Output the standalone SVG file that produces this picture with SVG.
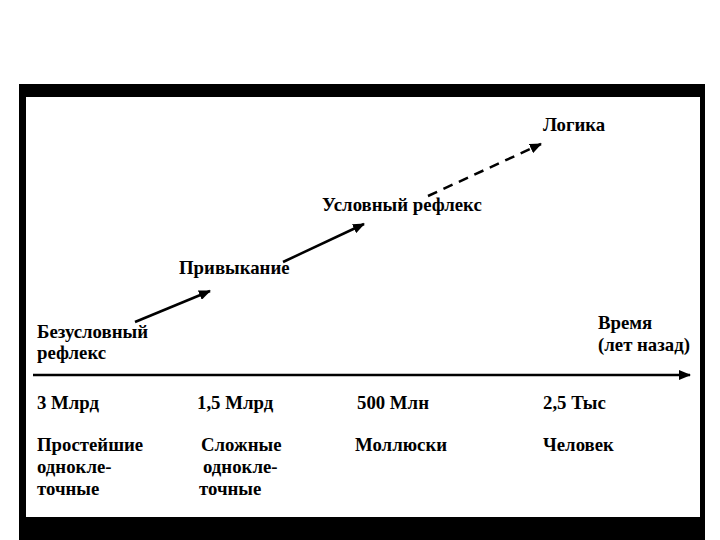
<svg xmlns="http://www.w3.org/2000/svg" width="720" height="540" viewBox="0 0 720 540">
<defs>
<style>
text{font-family:"Liberation Serif","Times New Roman",serif;font-weight:bold;font-size:18.8px;fill:#000}
.ln{stroke:#000;stroke-width:2.5;fill:none}
</style>
<marker id="ah" markerUnits="userSpaceOnUse" markerWidth="12" markerHeight="10" refX="11" refY="5" orient="auto">
<path d="M0,0 L12,5 L0,10 Z" fill="#000"/>
</marker>
</defs>
<rect width="720" height="540" fill="#fff"/>
<rect x="19" y="84" width="686" height="456" fill="#000"/>
<rect x="26" y="97" width="674" height="420" fill="#fff"/>
<g id="connectors">
<line class="ln" x1="135" y1="322" x2="210" y2="291" marker-end="url(#ah)"/>
<line class="ln" x1="283" y1="262" x2="364" y2="224" marker-end="url(#ah)"/>
<line class="ln" x1="428" y1="196" x2="541" y2="144" stroke-dasharray="10,7" marker-end="url(#ah)"/>
<line class="ln" x1="33" y1="375" x2="690" y2="375" stroke-width="3" marker-end="url(#ah)"/>
</g>
<g id="logic"><text x="543" y="131">Логика</text></g>
<g id="cond"><text x="322" y="211">Условный рефлекс</text></g>
<g id="habit"><text x="179" y="274">Привыкание</text></g>
<g id="uncond"><text x="37" y="338">Безусловный</text><text x="37" y="359">рефлекс</text></g>
<g id="time"><text x="598" y="329">Время</text><text x="598" y="351">(лет назад)</text></g>
<g id="t1"><text x="37" y="409">3 Млрд</text></g>
<g id="t2"><text x="197" y="409">1,5 Млрд</text></g>
<g id="t3"><text x="357" y="409">500 Млн</text></g>
<g id="t4"><text x="543" y="409">2,5 Тыс</text></g>
<g id="o1"><text x="37" y="451">Простейшие</text><text x="37" y="473">однокле-</text><text x="37" y="495">точные</text></g>
<g id="o2"><text x="201" y="451">Сложные</text><text x="203" y="473">однокле-</text><text x="199" y="495">точные</text></g>
<g id="o3"><text x="355" y="451">Моллюски</text></g>
<g id="o4"><text x="543" y="451">Человек</text></g>
</svg>
